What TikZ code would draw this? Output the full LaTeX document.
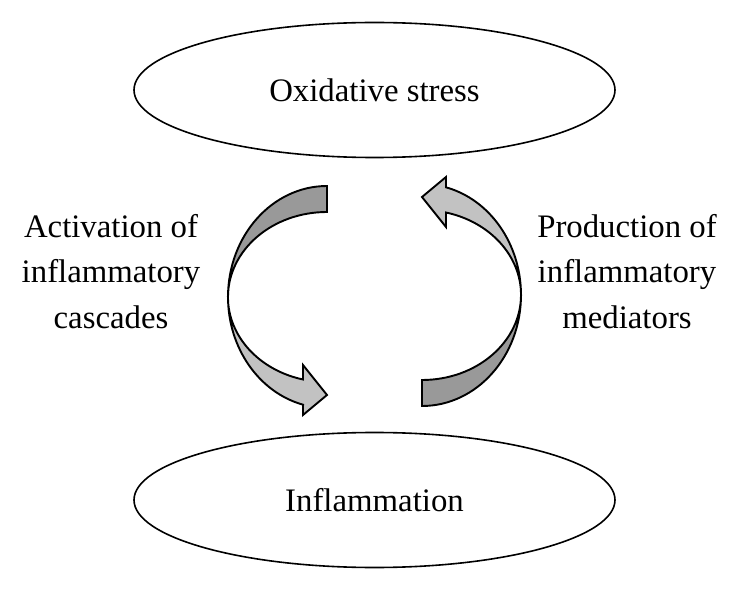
\documentclass[tikz,border=0pt]{standalone}
\usepackage{fontspec}
\setmainfont{Liberation Serif}
\usetikzlibrary{shapes.geometric}
\begin{document}
\begin{tikzpicture}[x=1pt,y=1pt,
  txt/.style={font=\fontsize{32.8}{45.5}\selectfont, align=center, inner sep=0pt},
  oval/.style={ellipse, draw, line width=1.6pt, minimum width=481pt, minimum height=135pt, inner sep=0pt, font=\fontsize{32.8}{40}\selectfont},
  backside/.style={fill=black!40, draw, line width=1.9pt, line join=miter},
  frontside/.style={fill=black!24, draw, line width=1.9pt, line join=miter},
]
\useasboundingbox (0,0) rectangle (742,590);
\node[oval] (ox) at (374.5,500) {Oxidative stress};
\node[oval] (inf) at (374.5,90) {Inflammation};
\node[txt] (act) at (111,318.8) {Activation of\\inflammatory\\cascades};
\node[txt] (prod) at (627,318.8) {Production of\\inflammatory\\mediators};
% left curved arrow
\begin{scope}
  \draw[backside] (327,404) arc[start angle=90,end angle=180,x radius=99,y radius=111]
    arc[start angle=180,end angle=90,x radius=99,y radius=85] -- cycle;
  \draw[frontside] (228,293) arc[start angle=180,end angle=256,x radius=99,y radius=111]
    -- (303,175) -- (327,195) -- (303,225) -- (303,210.5)
    arc[start angle=256,end angle=180,x radius=99,y radius=85] -- cycle;
\end{scope}
% right curved arrow
\begin{scope}[rotate around={180:(374.5,294)}]
  \draw[backside] (327,404) arc[start angle=90,end angle=180,x radius=99,y radius=111]
    arc[start angle=180,end angle=90,x radius=99,y radius=85] -- cycle;
  \draw[frontside] (228,293) arc[start angle=180,end angle=256,x radius=99,y radius=111]
    -- (303,175) -- (327,195) -- (303,225) -- (303,210.5)
    arc[start angle=256,end angle=180,x radius=99,y radius=85] -- cycle;
\end{scope}
\end{tikzpicture}
\end{document}
